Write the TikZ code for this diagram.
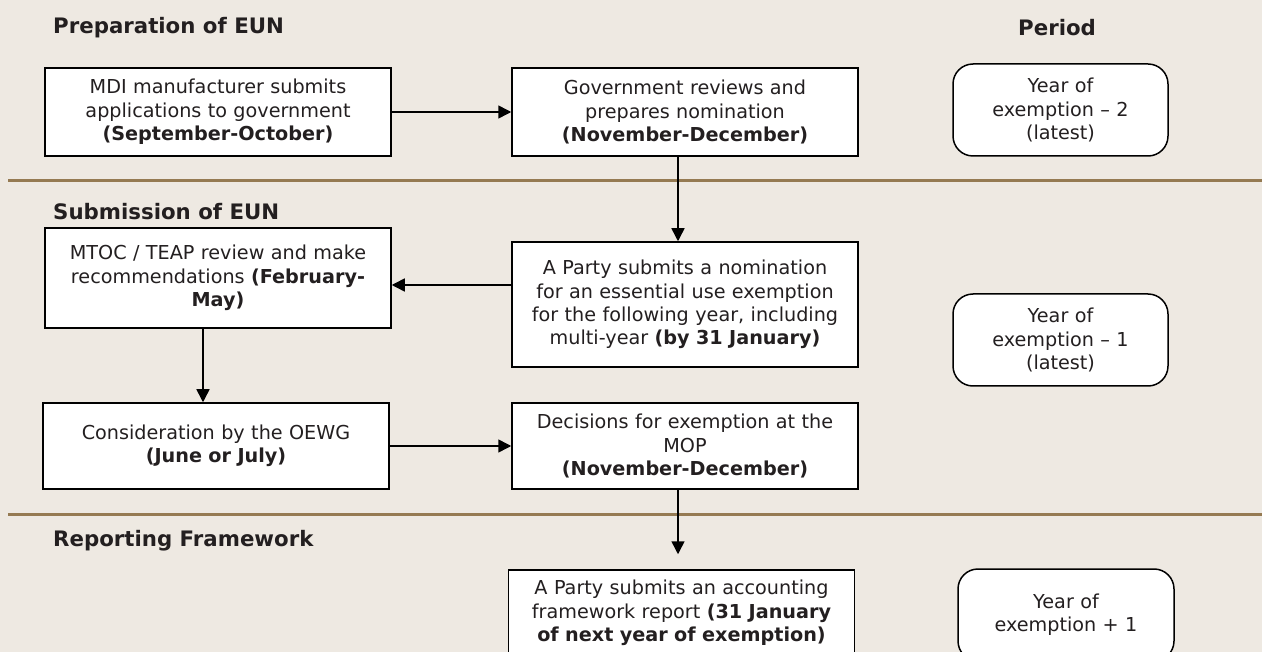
\documentclass[tikz,border=0pt]{standalone}
\usepackage{fontspec}
\setmainfont{DejaVu Sans}
\usetikzlibrary{arrows.meta}
\definecolor{bgbeige}{HTML}{EEE9E2}
\definecolor{rulebrown}{HTML}{957A52}
\definecolor{inkgrey}{HTML}{231F20}

\begin{document}
\begin{tikzpicture}[x=1pt,y=-1pt,
  stage/.style={draw=black,fill=white,line width=1.5pt,minimum width=346pt,text width=336pt,align=center,inner sep=0pt,text=inkgrey,font=\fontsize{19.2}{23.3}\selectfont},
  period/.style={draw=black,fill=white,line width=1.5pt,rounded corners=20pt,minimum width=215pt,minimum height=92pt,text width=205pt,align=center,inner sep=0pt,text=inkgrey,font=\fontsize{19.2}{23.3}\selectfont},
  heading/.style={anchor=west,inner sep=0pt,text=inkgrey,font=\fontsize{21.3}{25}\selectfont\bfseries},
  divider/.style={rulebrown,line width=3pt},
  flow/.style={-{Triangle[length=13pt,width=13pt]},line width=1.5pt}]
\clip (0,0) rectangle (1262,652);
\fill [bgbeige] (0,0) rectangle (1262,652);
% section rules
\draw [divider] (8,181) -- (1262,181);
\draw [divider] (8,514) -- (1262,514);
% headings
\node [heading] (hprep) at (53,28) {Preparation of EUN};
\node [heading] (hperiod) at (1018,28) {Period};
\node [heading] (hsub) at (53,212) {Submission of EUN};
\node [heading] (hrep) at (53,541) {Reporting Framework};
% steps
\node [stage,minimum height=88pt] (apply) at (218,112) {MDI manufacturer submits\\applications to government\\\textbf{(September-October)}};
\node [stage,minimum height=88pt] (review) at (685,112) {Government reviews and\\prepares nomination\\\textbf{(November-December)}};
\node [stage,minimum height=100pt] (mtoc) at (218,278) {MTOC / TEAP review and make\\recommendations \textbf{(February-}\\\textbf{May)}};
\node [stage,minimum height=125pt] (nominate) at (685,304.5) {A Party submits a nomination\\for an essential use exemption\\for the following year, including\\multi-year \textbf{(by 31 January)}};
\node [stage,minimum height=86pt] (oewg) at (216,446) {Consideration by the OEWG\\\textbf{(June or July)}};
\node [stage,minimum height=86pt] (mop) at (685,446) {Decisions for exemption at the\\MOP\\\textbf{(November-December)}};
\node [stage,minimum height=86pt] (report) at (681.5,613) {A Party submits an accounting\\framework report \textbf{(31 January}\\\textbf{of next year of exemption)}};
% periods
\node [period] (year2) at (1060.5,110) {Year of\\exemption -- 2\\(latest)};
\node [period] (year1) at (1060.5,340) {Year of\\exemption -- 1\\(latest)};
\node [period,minimum width=216pt] (yearplus) at (1066,615) {Year of\\exemption + 1\\[3pt]};
% arrows
\coordinate (spine) at (678,0);
\coordinate (mtocdrop) at (203,0);
\coordinate (backrow) at (0,285);
\draw [flow] (apply) -- (review);
\draw [flow] (review.south -| spine) -- (nominate.north -| spine);
\draw [flow] (nominate.west |- backrow) -- (mtoc.east |- backrow);
\draw [flow] (mtoc.south -| mtocdrop) -- (oewg.north -| mtocdrop);
\draw [flow] (oewg) -- (mop);
\draw [flow] (mop.south -| spine) -- ([yshift=15pt]report.north -| spine);
\end{tikzpicture}
\end{document}
